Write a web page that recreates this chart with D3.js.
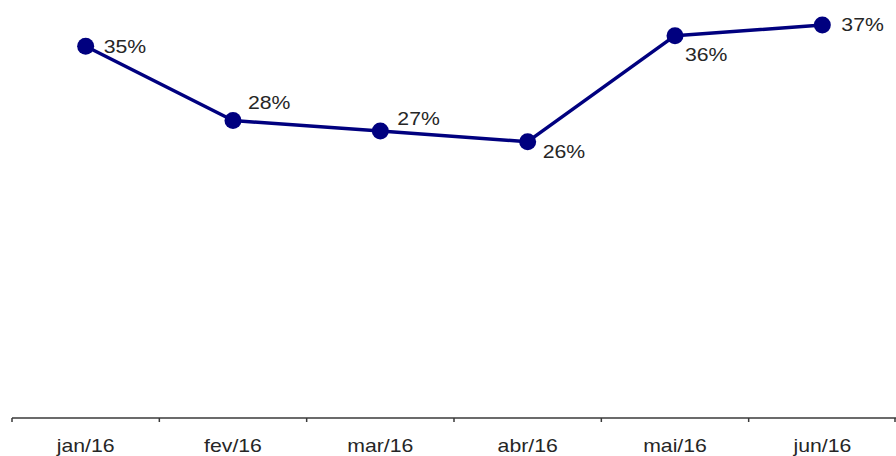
<!DOCTYPE html>
<html>
<head>
<meta charset="utf-8">
<script src="https://cdn.jsdelivr.net/npm/d3@7"></script>
<style>
  html, body { margin: 0; padding: 0; background: #fff; }
  svg { display: block; }
  text { font-family: "Liberation Sans", Arial, sans-serif; }
</style>
</head>
<body>
<svg id="chart" width="896" height="456"></svg>
<script>
const categories = ["jan/16", "fev/16", "mar/16", "abr/16", "mai/16", "jun/16"];
const values = [35, 28, 27, 26, 36, 37];
const valueLabels = ["35%", "28%", "27%", "26%", "36%", "37%"];
// label placement offsets (styling) relative to each point: [dx, dy]
const labelOffsets = [[18, 7], [15, -12], [17, -6], [15, 16], [10, 25], [19, 6]];

const W = 896, H = 456;
const axisY = 418;
const stretch = 1.18;
const lineColor = "#00007f";
const textColor = "#262626";

const svg = d3.select("#chart");

const x = d3.scaleBand().domain(categories).range([12, 896]).padding(0);
const y = d3.scaleLinear().domain([0, 40]).range([417.3, -6.7]);

const cx = d => x(d) + x.bandwidth() / 2;

// axis line
svg.append("line")
  .attr("x1", x.range()[0]).attr("x2", x.range()[1])
  .attr("y1", axisY).attr("y2", axisY)
  .attr("stroke", "#3a3a3a").attr("stroke-width", 1.5);

// ticks at band boundaries
const tickXs = categories.map(c => x(c)).concat([x.range()[1] - 1]);
svg.selectAll("line.tick").data(tickXs).join("line")
  .attr("class", "tick")
  .attr("x1", d => d).attr("x2", d => d)
  .attr("y1", axisY).attr("y2", axisY + 4)
  .attr("stroke", "#3a3a3a").attr("stroke-width", 1.5);

// category labels
svg.selectAll("text.cat").data(categories).join("text")
  .attr("class", "cat")
  .attr("transform", d => `translate(${cx(d)},452) scale(${stretch},1)`)
  .attr("text-anchor", "middle")
  .attr("font-size", 18)
  .attr("fill", textColor)
  .text(d => d);

// line
const line = d3.line()
  .x((d, i) => cx(categories[i]))
  .y(d => y(d));

svg.append("path")
  .datum(values)
  .attr("d", line)
  .attr("fill", "none")
  .attr("stroke", lineColor)
  .attr("stroke-width", 3.5)
  .attr("stroke-linejoin", "round");

// markers
svg.selectAll("circle.pt").data(values).join("circle")
  .attr("class", "pt")
  .attr("cx", (d, i) => cx(categories[i]))
  .attr("cy", d => y(d))
  .attr("r", 8.5)
  .attr("fill", lineColor);

// value labels
svg.selectAll("text.val").data(values).join("text")
  .attr("class", "val")
  .attr("transform", (d, i) => `translate(${cx(categories[i]) + labelOffsets[i][0]},${y(d) + labelOffsets[i][1]}) scale(${stretch},1)`)
  .attr("font-size", 18)
  .attr("fill", textColor)
  .text((d, i) => valueLabels[i]);
</script>
</body>
</html>
